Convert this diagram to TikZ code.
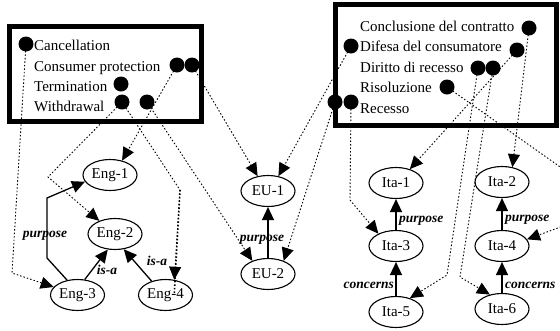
\documentclass[tikz,border=0pt]{standalone}
\usepackage{fontspec}
\setmainfont{Liberation Serif}
\usetikzlibrary{arrows.meta,shapes.geometric}
\begin{document}
\begin{tikzpicture}[x=1pt,y=-1pt,
  nd/.style={ellipse,draw,line width=1.1pt,minimum width=54pt,minimum height=31pt,inner sep=0pt,font=\fontsize{15}{18}\selectfont},
  dot/.style={circle,fill=black,minimum size=15pt,inner sep=0pt},
  lbl/.style={font=\fontsize{15}{18}\selectfont,anchor=base west,inner sep=0pt},
  elbl/.style={font=\fontsize{13.5}{16}\selectfont\bfseries\itshape,inner sep=0pt},
  rel/.style={line width=1.3pt,-{Triangle[length=13pt,width=12pt]}},
  lnk/.style={line width=0.9pt,dash pattern=on 1.5pt off 2pt,-{Triangle[length=13pt,width=12pt]}},
  frame/.style={line width=5pt}]
\useasboundingbox (0,0) rectangle (560,330);
\clip (0,0) rectangle (560,330);

% boxes
\draw[frame] (9.5,26.5) rectangle (201.5,121.5);
\draw[frame] (335.5,4.5) rectangle (556.5,125.5);

% box labels
\node[lbl] (tcanc) at (34,50) {Cancellation};
\node[lbl] (tcons) at (34,71) {Consumer protection};
\node[lbl] (tterm) at (34,91) {Termination};
\node[lbl] (twith) at (34,111) {Withdrawal};
\node[lbl] (tconc) at (360,31) {Conclusione del contratto};
\node[lbl] (tdife) at (360,51) {Difesa del consumatore};
\node[lbl] (tdiri) at (360,72) {Diritto di recesso};
\node[lbl] (trisol) at (360,92) {Risoluzione};
\node[lbl] (trec) at (360,113) {Recesso};

% graph nodes
\node[nd] (eng1) at (110,175) {Eng-1};
\node[nd] (eng2) at (115,234) {Eng-2};
\node[nd] (eng3) at (77.5,295) {Eng-3};
\node[nd] (eng4) at (165.5,295) {Eng-4};
\node[nd] (eu1) at (268,191) {EU-1};
\node[nd] (eu2) at (268,274) {EU-2};
\node[nd] (ita1) at (396,183) {Ita-1};
\node[nd] (ita2) at (502,182) {Ita-2};
\node[nd] (ita3) at (396,246) {Ita-3};
\node[nd] (ita4) at (502,246) {Ita-4};
\node[nd] (ita5) at (396,312) {Ita-5};
\node[nd] (ita6) at (502,309) {Ita-6};

% dots (ports)
\coordinate (c1) at (26,44);
\coordinate (cp1) at (177,65);
\coordinate (cp2) at (192,65);
\coordinate (te) at (121,84);
\coordinate (wi) at (122,102);
\coordinate (xx) at (147,102);
\coordinate (co) at (529,28);
\coordinate (db) at (351,46);
\coordinate (da) at (517,50);
\coordinate (dr1) at (478,68);
\coordinate (dr2) at (493,68);
\coordinate (ri) at (447,87);
\coordinate (re1) at (335,102);
\coordinate (re2) at (351,102);

% bend points
\coordinate (b1) at (12,273);
\coordinate (b2) at (48,177);
\coordinate (b3) at (180,190);
\coordinate (b4) at (350,200);
\coordinate (b5) at (590,188);
\coordinate (b6) at (585,218);
\coordinate (b7) at (447,275);
\coordinate (b8) at (460,277);
\coordinate (p1) at (63,280);
\coordinate (p2) at (47,258);
\coordinate (p3) at (47,198);

% dotted links
\draw[lnk] (c1) -- (b1) -- (eng3);
\draw[lnk] (cp1) -- (eng1.50);
\draw[lnk] (cp2) -- (eu1.125);
\draw[lnk] (wi) -- (b2) -- (eng2.140);
\draw[lnk] (wi) -- (b3) -- (eng4.60);
\draw[line width=1.6pt,dash pattern=on 1.5pt off 2pt] (b3) -- ([yshift=-14pt]eng4.60);
\draw[lnk] (xx) -- (eu2.140);
\draw[lnk] (db) -- (eu1.55);
\draw[lnk] (re1) -- (eu2.40);
\draw[lnk] (re2) -- (b4) -- (ita3.145);
\draw[lnk] (da) -- (ita1.45);
\draw[lnk] (co) -- (ita2.55);
\draw[lnk] (ri) -- (b5) -- (b6) -- (ita4.15);
\draw[lnk] (dr1) -- (b7) -- (ita5.45);
\draw[lnk] (dr2) -- (b8) -- (ita6.130);

% dots on top
\foreach \d in {c1,cp1,cp2,te,wi,xx,co,db,da,dr1,dr2,ri,re1,re2}
  \node[dot] (d\d) at (\d) {};

% solid relations
\draw[rel] (eng3.125) -- (p2) -- (p3) -- (eng1.195);
\draw[rel] (eng3.65) -- (eng2.245);
\draw[rel] (eng4.135) -- (eng2.300);
\draw[rel] (eu2) -- (eu1);
\draw[rel] (ita3) -- (ita1);
\draw[rel] (ita5) -- (ita3);
\draw[rel] (ita4) -- (ita2);
\draw[rel] (ita6) -- (ita4);

% relation labels
\node[elbl] (l1) at (45,236) {purpose};
\node[elbl] (l2) at (107,270) {is-a};
\node[elbl] (l3) at (157,261) {is-a};
\node[elbl] (l4) at (262,240) {purpose};
\node[elbl,anchor=west] (l5) at (399,221) {purpose};
\node[elbl,anchor=west] (l6) at (505,220) {purpose};
\node[elbl,anchor=east] (l7) at (394,285) {concerns};
\node[elbl,anchor=west] (l8) at (505,285) {concerns};
\end{tikzpicture}
\end{document}
